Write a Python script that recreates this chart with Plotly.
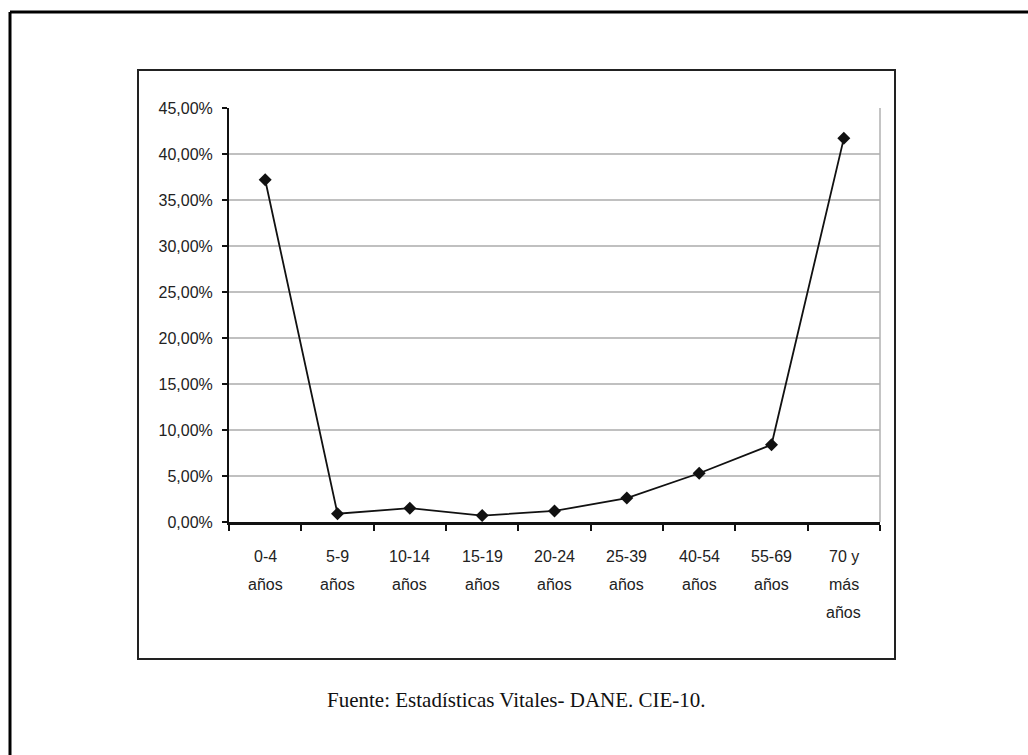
import plotly.graph_objects as go

categories = ["0-4\naños", "5-9\naños", "10-14\naños", "15-19\naños", "20-24\naños",
              "25-39\naños", "40-54\naños", "55-69\naños", "70 y\nmás\naños"]
values = [37.2, 0.9, 1.5, 0.7, 1.2, 2.6, 5.3, 8.4, 41.7]
y_ticks = [0, 5, 10, 15, 20, 25, 30, 35, 40, 45]
y_tick_labels = [f"{v:.2f}%".replace(".", ",") for v in y_ticks]
source_text = "Fuente: Estadísticas Vitales- DANE. CIE-10."

W, H = 1028, 755
L, R, T, B = 229, 880, 108, 522  # plot area in pixels
pw, ph = R - L, B - T

def px(x):
    return (x - L) / pw

def py(y):
    return (B - y) / ph

fig = go.Figure()
fig.add_trace(go.Scatter(
    x=list(range(len(categories))), y=values, mode="lines+markers",
    line=dict(color="#111111", width=1.8),
    marker=dict(symbol="diamond", size=10, color="#111111"),
    showlegend=False, hoverinfo="skip"))

annotations = []
for i, cat in enumerate(categories):
    for j, line in enumerate(cat.split("\n")):
        annotations.append(dict(
            x=i, xref="x", y=0, yref="paper", yanchor="middle",
            yshift=-(34 + 28 * j), text=line, showarrow=False,
            font=dict(family="Liberation Sans, Arial", size=16, color="#222222")))
annotations.append(dict(
    x=px(516), xref="paper", y=py(700), yref="paper", xanchor="center", yanchor="middle",
    text=source_text, showarrow=False,
    font=dict(family="Liberation Serif, Times New Roman", size=21, color="#111111")))

shapes = [
    # outer page border (left and top)
    dict(type="line", xref="paper", yref="paper", x0=px(10), x1=px(10), y0=py(12), y1=py(780),
         line=dict(color="#000000", width=3)),
    dict(type="line", xref="paper", yref="paper", x0=px(10), x1=px(1040), y0=py(12), y1=py(12),
         line=dict(color="#000000", width=3)),
    # inner chart box
    dict(type="rect", xref="paper", yref="paper", x0=px(138), x1=px(895), y0=py(659), y1=py(70),
         line=dict(color="#222222", width=2), layer="below"),
    # grey right border of plot area
    dict(type="line", xref="paper", yref="paper", x0=1, x1=1, y0=0, y1=1,
         line=dict(color="#b0b0b0", width=1.5)),
]

fig.update_layout(
    width=W, height=H,
    margin=dict(l=L, r=W - R, t=T, b=H - B),
    paper_bgcolor="white", plot_bgcolor="white",
    annotations=annotations, shapes=shapes,
    xaxis=dict(
        range=[-0.5, len(categories) - 0.5],
        tickvals=[i - 0.5 for i in range(len(categories) + 1)],
        showticklabels=False, ticks="outside", ticklen=6, tickwidth=2, tickcolor="#111111",
        showgrid=False, zeroline=False, showline=True, linecolor="#111111", linewidth=3,
        fixedrange=True),
    yaxis=dict(
        range=[0, 45], tickvals=y_ticks, ticktext=y_tick_labels,
        ticks="outside", ticklen=5, tickwidth=1.5, tickcolor="#111111",
        showline=True, linecolor="#111111", linewidth=2,
        showgrid=True, gridcolor="#c0c0c0", gridwidth=1.5, zeroline=False,
        ticklabelstandoff=6,
        tickfont=dict(family="Liberation Sans, Arial", size=16, color="#222222")),
)

fig.write_html("out.html")
